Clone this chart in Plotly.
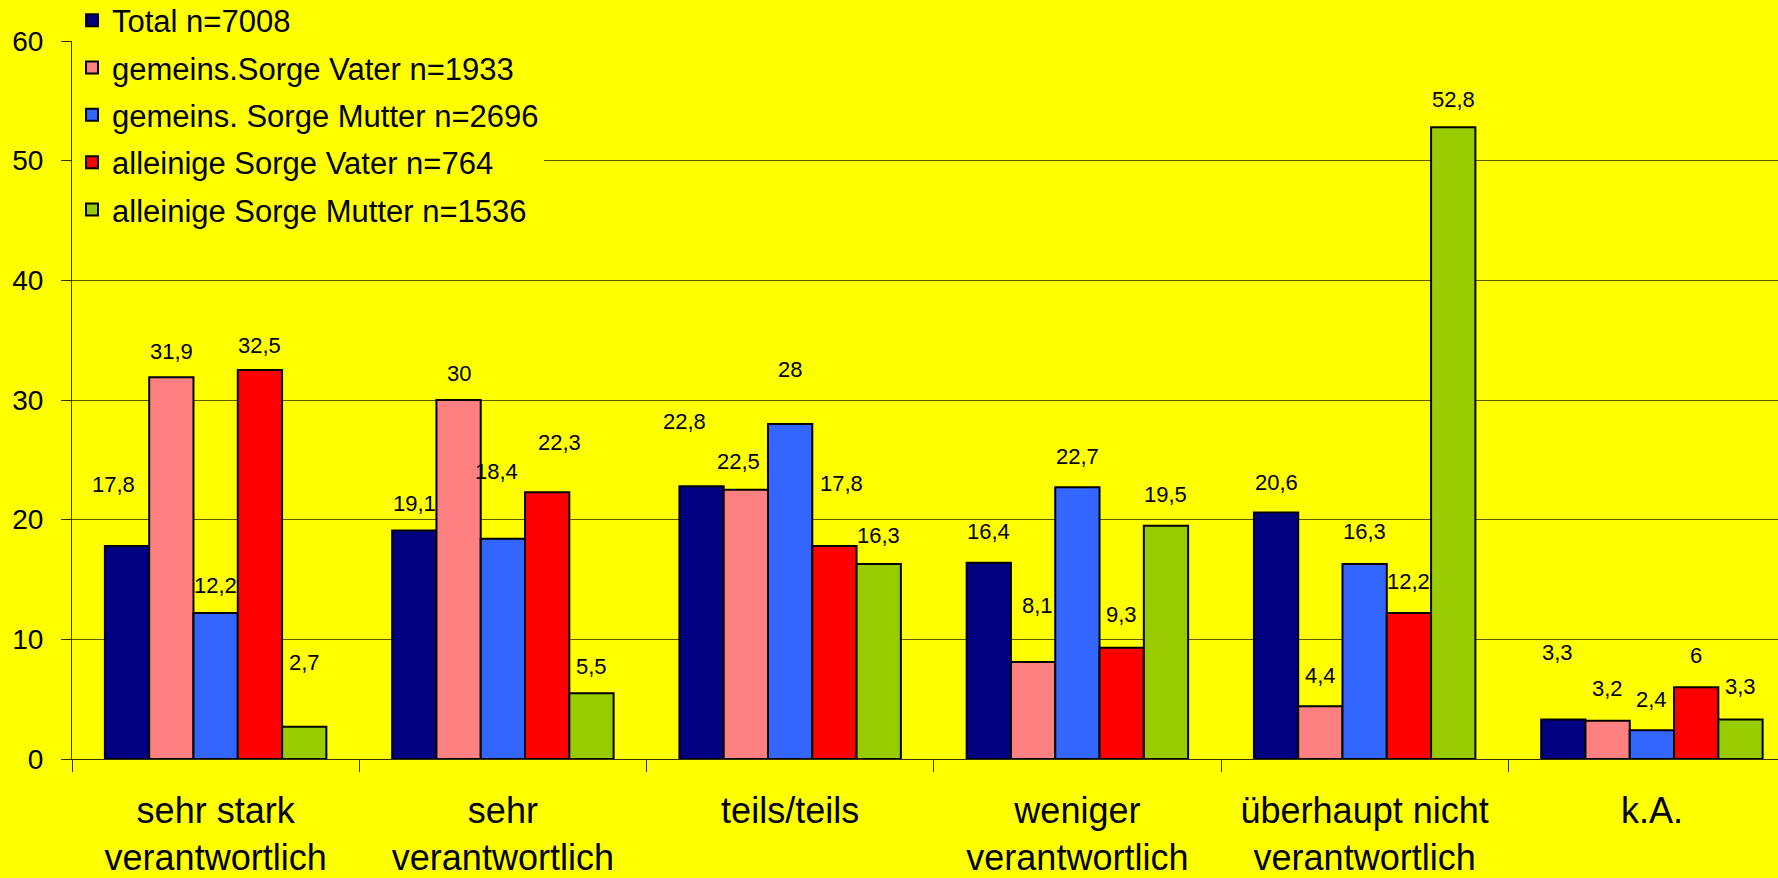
import plotly.graph_objects as go

# Answer categories (x axis)
categories = [
    "sehr stark<br>verantwortlich",
    "sehr<br>verantwortlich",
    "teils/teils",
    "weniger<br>verantwortlich",
    "überhaupt nicht<br>verantwortlich",
    "k.A.",
]

# Series names and values (percent)
series_names = [
    "Total n=7008",
    "gemeins.Sorge Vater n=1933",
    "gemeins. Sorge Mutter n=2696",
    "alleinige Sorge Vater n=764",
    "alleinige Sorge Mutter n=1536",
]
total = [17.8, 19.1, 22.8, 16.4, 20.6, 3.3]
gemeins_vater = [31.9, 30.0, 22.5, 8.1, 4.4, 3.2]
gemeins_mutter = [12.2, 18.4, 28.0, 22.7, 16.3, 2.4]
allein_vater = [32.5, 22.3, 17.8, 9.3, 12.2, 6.0]
allein_mutter = [2.7, 5.5, 16.3, 19.5, 52.8, 3.3]

series_values = [total, gemeins_vater, gemeins_mutter, allein_vater, allein_mutter]
series_colors = ["#000080", "#FF8080", "#3366FF", "#FF0000", "#99CC00"]

# Value label placement: lift above bar top (px) and horizontal nudge (px)
label_lift = [
    [61, 27, 65, 31, 30, 67],
    [26, 27, 28, 57, 31, 32],
    [28, 67, 54, 31, 32, 31],
    [25, 50, 62, 33, 32, 32],
    [64, 27, 28, 31, 28, 33],
]
label_nudge = [
    [-14, 0, -17, 0, 0, -6],
    [0, 0, -7, 4, 0, 0],
    [0, -6, 0, 0, 0, 0],
    [0, 12, 7, 0, 0, 0],
    [0, 0, 0, 0, 0, 0],
]

FONT = "Liberation Sans, Arial, sans-serif"
BG = "#FFFF00"
BARGAP = 0.229
n_series = len(series_values)
slot = (1 - BARGAP) / n_series


def fmt(v):
    s = f"{v:.1f}".replace(".", ",")
    return s[:-2] if s.endswith(",0") else s


fig = go.Figure()
for idx, (name, vals, color) in enumerate(zip(series_names, series_values, series_colors)):
    fig.add_trace(go.Bar(
        name=name,
        legendgroup=f"g{idx}",
        x=categories,
        y=vals,
        marker=dict(color=color, line=dict(color="#000000", width=2)),
        hoverinfo="x+y+name",
    ))

annotations = []
for i, vals in enumerate(series_values):
    for k, v in enumerate(vals):
        annotations.append(dict(
            x=k + (i - (n_series - 1) / 2) * slot,
            y=v,
            xref="x",
            yref="y",
            text=fmt(v),
            showarrow=False,
            xanchor="center",
            yanchor="middle",
            xshift=label_nudge[i][k],
            yshift=label_lift[i][k],
            font=dict(family=FONT, size=22, color="#000000"),
        ))

fig.update_layout(
    width=1778,
    height=878,
    margin=dict(l=72, r=0, t=41, b=119, autoexpand=False),
    paper_bgcolor=BG,
    plot_bgcolor=BG,
    barmode="group",
    bargap=BARGAP,
    bargroupgap=0,
    font=dict(family=FONT, color="#000000"),
    annotations=annotations,
    legend=dict(
        x=0,
        y=1.066,
        xanchor="left",
        yanchor="top",
        bgcolor=BG,
        borderwidth=0,
        font=dict(family=FONT, size=31, color="#000000"),
        itemwidth=30,
        traceorder="grouped",
        tracegroupgap=4,
    ),
    xaxis=dict(
        type="category",
        range=[-0.5, 5.439],
        showline=True,
        linecolor="#333300",
        linewidth=1,
        ticks="outside",
        tickson="boundaries",
        ticklen=12,
        tickcolor="#333300",
        tickwidth=1,
        tickfont=dict(family=FONT, size=36, color="#000000"),
        ticklabelstandoff=20,
        showgrid=False,
        zeroline=False,
    ),
    yaxis=dict(
        range=[0, 60],
        dtick=10,
        showline=True,
        linecolor="#333300",
        linewidth=1,
        ticks="outside",
        ticklen=10,
        tickcolor="#333300",
        tickwidth=1,
        tickfont=dict(family=FONT, size=28, color="#000000"),
        ticklabelstandoff=12,
        showgrid=True,
        gridcolor="#5a5a00",
        gridwidth=1,
        zeroline=False,
    ),
)

fig.write_html("out.html")
